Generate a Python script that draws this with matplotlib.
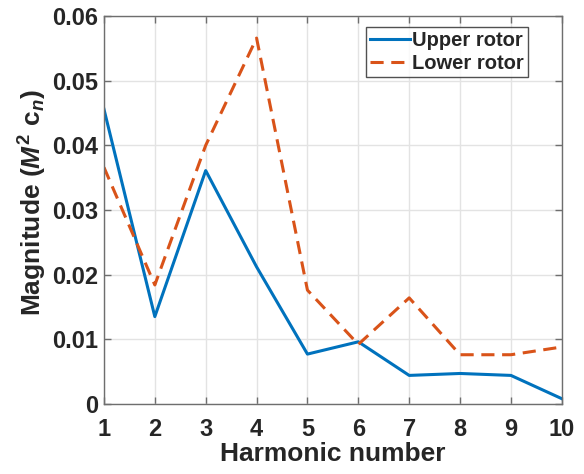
import matplotlib
matplotlib.use("Agg")
import matplotlib.pyplot as plt

harmonics = [1, 2, 3, 4, 5, 6, 7, 8, 9, 10]
upper_rotor = [0.0456, 0.0135, 0.0361, 0.0212, 0.0077, 0.0096, 0.0044, 0.0047, 0.0044, 0.0008]
lower_rotor = [0.0366, 0.0184, 0.0400, 0.0566, 0.0176, 0.0092, 0.0164, 0.0076, 0.0076, 0.0088]
yticks = [0, 0.01, 0.02, 0.03, 0.04, 0.05, 0.06]
ytick_labels = ["0", "0.01", "0.02", "0.03", "0.04", "0.05", "0.06"]

plt.rcParams['font.family'] = ['Liberation Sans', 'DejaVu Sans']
plt.rcParams['font.weight'] = 'bold'
plt.rcParams['mathtext.fontset'] = 'custom'
plt.rcParams['mathtext.rm'] = 'Liberation Sans:bold'
plt.rcParams['mathtext.it'] = 'Liberation Sans:italic:bold'
plt.rcParams['mathtext.bf'] = 'Liberation Sans:bold'

fig = plt.figure(figsize=(5.84, 4.74), dpi=100)
ax = fig.add_axes([0.178, 0.148, 0.784, 0.818])

ax.plot(harmonics, upper_rotor, color='#0072BD', lw=2.2, label='Upper rotor')
ax.plot(harmonics, lower_rotor, color='#D95319', lw=2.2, ls=(0, (4.3, 2.5)), label='Lower rotor')

ax.set_xlim(1, 10)
ax.set_ylim(0, 0.06)
ax.set_xticks(harmonics)
ax.set_yticks(yticks)
ax.set_yticklabels(ytick_labels)
ax.grid(True, color='#e3e3e3', lw=1.0)
ax.set_axisbelow(True)
for s in ax.spines.values():
    s.set_color('#6e6e6e')
    s.set_linewidth(1.0)
ax.tick_params(direction='in', length=5, width=1.0, color='#6e6e6e', labelsize=17,
               top=True, right=True, labelcolor='#262626')
ax.tick_params(axis='x', pad=10)
ax.tick_params(axis='y', pad=4)
for lbl in ax.get_xticklabels() + ax.get_yticklabels():
    lbl.set_fontweight('bold')

ax.set_xlabel('Harmonic number', fontsize=19, fontweight='bold', color='#262626', labelpad=1)
ax.set_ylabel(r'Magnitude ($M^2\ \mathrm{c}_n$)', fontsize=19, fontweight='bold', color='#262626', labelpad=2)
ax.yaxis.set_label_coords(-0.119, 0.52)

leg = ax.legend(loc='upper right', bbox_to_anchor=(0.926, 0.972), fontsize=14.5, frameon=True,
                fancybox=False, edgecolor='#262626', handlelength=2.0, handletextpad=0.1,
                borderpad=0.2, labelspacing=0.22, borderaxespad=0.0)
leg.get_frame().set_linewidth(1.0)
for t in leg.get_texts():
    t.set_fontweight('bold')
    t.set_color('#262626')

fig.savefig('out.png', dpi=100)
